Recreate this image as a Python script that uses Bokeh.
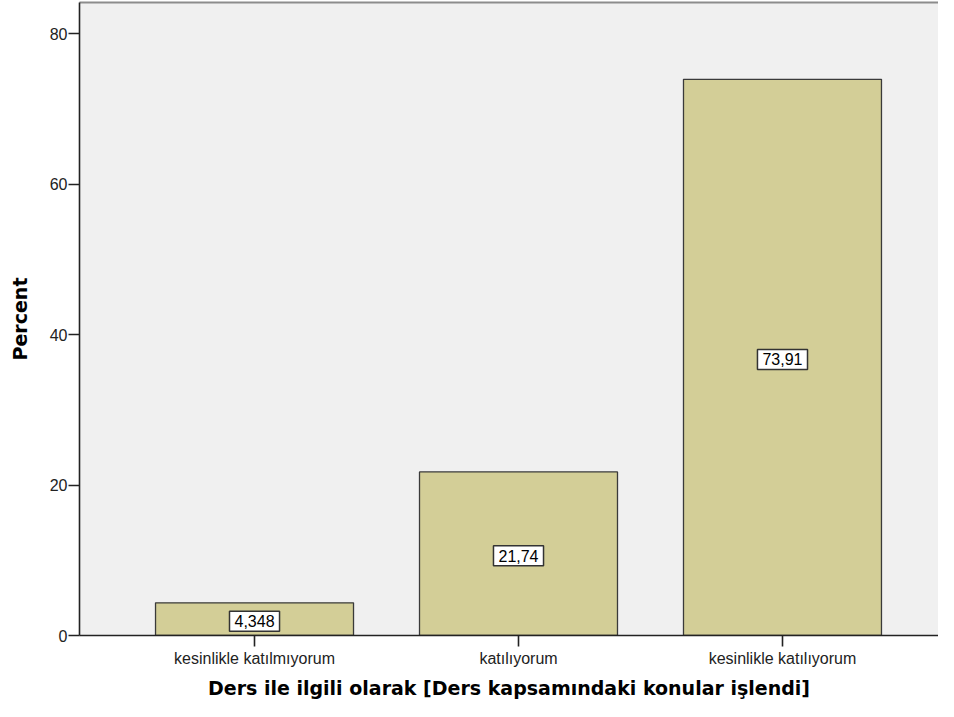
from bokeh.plotting import figure
from bokeh.models import ColumnDataSource, Range1d, FixedTicker, LinearAxis
from bokeh.core.properties import value
from bokeh.embed import file_html
from bokeh.resources import INLINE

categories = ["kesinlikle katılmıyorum", "katılıyorum", "kesinlikle katılıyorum"]
percent = [4.348, 21.74, 73.91]
labels = ["4,348", "21,74", "73,91"]
y_ticks = [0, 20, 40, 60, 80]

xpos = list(range(len(categories)))
src = ColumnDataSource(dict(
    x=xpos,
    pct=percent,
    mid=[v / 2 for v in percent],
    lab=labels,
))

p = figure(
    x_range=Range1d(-0.663, 2.591),
    y_range=Range1d(0, 84.12),
    width=938, height=701,
    output_backend="svg", toolbar_location=None,
    min_border_left=79, min_border_right=0, min_border_top=2, min_border_bottom=60,
)
p.background_fill_color = "#f0f0f0"
p.border_fill_color = "white"
p.outline_line_color = None
p.grid.visible = False

p.vbar(x="x", top="pct", width=0.75, source=src,
       fill_color="#d3ce97", line_color="#3a3a3a", line_width=1.3)

p.text(x="x", y="mid", text="lab", source=src,
       text_align="center", text_baseline="middle", y_offset=2,
       text_font=value("Liberation Sans"), text_font_size="16px", text_color="black",
       background_fill_color="white", border_line_color="#333333",
       border_line_width=1.5, padding=(5, 4))

xax = p.below[0]
yax = p.left[0]
xax.ticker = FixedTicker(ticks=xpos)
xax.major_label_overrides = {i: c for i, c in zip(xpos, categories)}
yax.ticker = FixedTicker(ticks=y_ticks)
for ax in (xax, yax):
    ax.axis_line_color = "#222222"
    ax.axis_line_width = 1.6
    ax.major_tick_line_color = "#222222"
    ax.major_tick_line_width = 1.6
    ax.major_tick_in = 0
    ax.major_tick_out = 11
    ax.minor_tick_line_color = None
    ax.major_label_text_font = "Liberation Sans"
    ax.major_label_text_font_size = "16px"
    ax.major_label_text_color = "#222222"
    ax.axis_label_text_font = "DejaVu Sans"
    ax.axis_label_text_font_style = "bold"
    ax.axis_label_text_font_size = "19px"
    ax.axis_label_text_color = "black"

xax.major_label_standoff = 3
yax.major_label_standoff = 1
xax.axis_label = "Ders ile ilgili olarak [Ders kapsamındaki konular işlendi]"
yax.axis_label = "Percent"
xax.axis_label_standoff = 7
yax.axis_label_standoff = 16

# top border of the frame (the frame runs off the right edge in the reference)
top = LinearAxis(axis_line_color="#8c8c8c", axis_line_width=2,
                 major_tick_line_color=None, minor_tick_line_color=None,
                 major_label_text_font_size="0px", major_tick_out=0, major_tick_in=0,
                 major_label_standoff=0, ticker=FixedTicker(ticks=[]))
p.add_layout(top, "above")

open("out.html", "w").write(file_html(p, INLINE))
